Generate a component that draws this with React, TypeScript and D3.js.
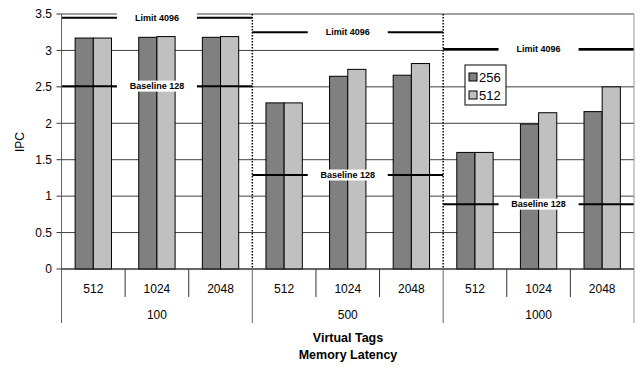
import * as d3 from 'd3'

const latencies = ['100', '500', '1000']
const tagSizes = ['512', '1024', '2048']
const seriesNames = ['256', '512']
const ipc256 = [3.17, 3.18, 3.18, 2.28, 2.645, 2.66, 1.6, 1.99, 2.16]
const ipc512 = [3.17, 3.19, 3.19, 2.28, 2.74, 2.82, 1.6, 2.145, 2.5]
const limit4096 = [3.45, 3.25, 3.02]
const baseline128 = [2.51, 1.29, 0.89]
const yTicks = [0, 0.5, 1, 1.5, 2, 2.5, 3, 3.5]

const COLORS = ['#808080', '#c0c0c0']
const FONT = 'Liberation Sans, Arial, sans-serif'

export default function App() {
  const width = 640
  const height = 367
  const left = 61.5
  const right = 634
  const top = 14
  const bottom = 269

  // one slot per (latency, tag size) pair
  const cats = latencies.flatMap(l => tagSizes.map(t => `${l}-${t}`))

  const x0 = d3.scaleBand().domain(cats).range([left, right]).padding(0)
  const x1 = d3.scaleBand()
    .domain(seriesNames)
    .range([0, x0.bandwidth()])
    .paddingInner(0)
    .paddingOuter(0.75)
  const xg = d3.scaleBand().domain(latencies).range([left, right]).padding(0)
  const y = d3.scaleLinear().domain([0, 3.5]).range([bottom, top])

  const values = [ipc256, ipc512]

  const refLine = (vals: number[], label: string, kind: string) =>
    latencies.map((l, i) => {
      const gx = xg(l)!
      const gw = xg.bandwidth()
      const cx = gx + gw / 2
      const yy = y(vals[i])
      return (
        <g key={`${kind}-${l}`}>
          <line x1={gx} x2={gx + gw} y1={yy} y2={yy} stroke="#000" strokeWidth={2} />
          <rect x={cx - 40} y={yy - 5.5} width={80} height={11} fill="#fff" />
          <text
            x={cx}
            y={yy + 3.2}
            textAnchor="middle"
            fontSize={9}
            fontWeight="bold"
            fontFamily={FONT}
          >
            {label}
          </text>
        </g>
      )
    })

  return (
    <svg
      width={width}
      height={height}
      style={{ position: 'absolute', left: 0, top: 0, background: '#fff' }}
    >
      {/* Gridlines */}
      {yTicks.map(t => (
        <line key={`g-${t}`} x1={left} x2={right} y1={y(t)} y2={y(t)} stroke="#404040" strokeWidth={1} />
      ))}

      {/* Bars */}
      {cats.map((c, i) => (
        <g key={c} transform={`translate(${x0(c)},0)`}>
          {seriesNames.map((s, j) => (
            <rect
              key={s}
              x={x1(s)}
              y={y(values[j][i])}
              width={x1.bandwidth()}
              height={y(0) - y(values[j][i])}
              fill={COLORS[j]}
              stroke="#000"
              strokeWidth={1}
            />
          ))}
        </g>
      ))}

      {/* Group separators */}
      {latencies.slice(1).map(l => (
        <line
          key={`sep-${l}`}
          x1={xg(l)}
          x2={xg(l)}
          y1={top}
          y2={bottom}
          stroke="#000"
          strokeWidth={1.5}
          strokeDasharray="1.5,1.5"
        />
      ))}

      {/* Reference lines */}
      {refLine(limit4096, 'Limit 4096', 'limit')}
      {refLine(baseline128, 'Baseline 128', 'base')}

      {/* Axes */}
      <line x1={left} x2={left} y1={top} y2={323} stroke="#666" />
      <line x1={right} x2={right} y1={top} y2={323} stroke="#999" />
      <line x1={left} x2={right} y1={bottom} y2={bottom} stroke="#333" />
      {yTicks.map(t => (
        <g key={`yt-${t}`}>
          <line x1={left - 5} x2={left} y1={y(t)} y2={y(t)} stroke="#333" />
          <text x={52} y={y(t) + 4.3} textAnchor="end" fontSize={12} fontFamily={FONT}>
            {t}
          </text>
        </g>
      ))}
      <text
        transform="translate(24,142) rotate(-90)"
        textAnchor="middle"
        fontSize={12}
        fontFamily={FONT}
      >
        IPC
      </text>

      {/* Category axis */}
      {cats.map((c, i) => {
        const cx = x0(c)! + x0.bandwidth() / 2
        return (
          <g key={`xl-${c}`}>
            {i % 3 !== 0 && (
              <line x1={x0(c)} x2={x0(c)} y1={bottom} y2={297} stroke="#333" />
            )}
            <text x={cx} y={292.5} textAnchor="middle" fontSize={12} fontFamily={FONT}>
              {tagSizes[i % 3]}
            </text>
          </g>
        )
      })}
      {latencies.map(l => (
        <g key={`gl-${l}`}>
          {l !== latencies[0] && (
            <line x1={xg(l)} x2={xg(l)} y1={bottom} y2={323} stroke="#666" />
          )}
          <text
            x={xg(l)! + xg.bandwidth() / 2}
            y={319}
            textAnchor="middle"
            fontSize={12}
            fontFamily={FONT}
          >
            {l}
          </text>
        </g>
      ))}
      <text x={348} y={342} textAnchor="middle" fontSize={12.5} fontWeight="bold" fontFamily={FONT}>
        Virtual Tags
      </text>
      <text x={348} y={359} textAnchor="middle" fontSize={12.5} fontWeight="bold" fontFamily={FONT}>
        Memory Latency
      </text>

      {/* Legend */}
      <g transform="translate(465,65)">
        <rect x={0} y={0} width={41} height={40} fill="#fff" stroke="#000" />
        {seriesNames.map((s, i) => (
          <g key={`lg-${s}`} transform={`translate(0,${i * 18})`}>
            <rect x={4} y={8} width={8} height={8} fill={COLORS[i]} stroke="#000" />
            <text x={14} y={17} fontSize={13} fontFamily={FONT}>
              {s}
            </text>
          </g>
        ))}
      </g>
    </svg>
  )
}
